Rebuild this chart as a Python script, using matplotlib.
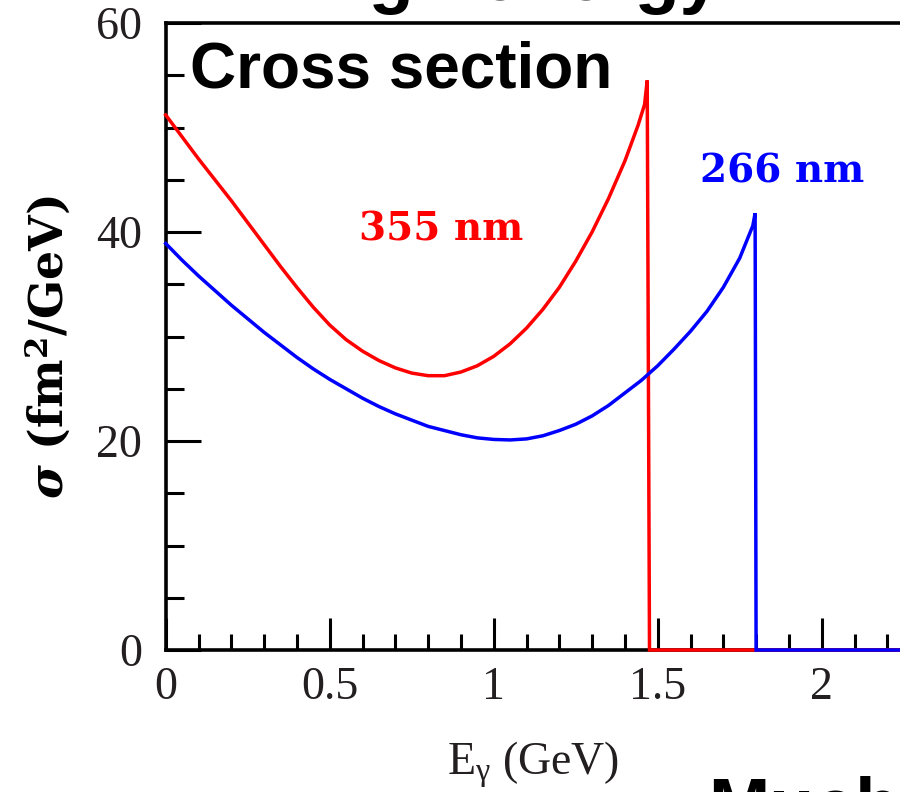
import matplotlib
matplotlib.use("Agg")
import matplotlib.pyplot as plt
from matplotlib.ticker import MultipleLocator

plt.rcParams['mathtext.fontset'] = 'custom'
plt.rcParams['mathtext.rm'] = 'Liberation Serif'
plt.rcParams['mathtext.it'] = 'Liberation Serif:italic'
plt.rcParams['mathtext.bf'] = 'DejaVu Serif:bold'
plt.rcParams['mathtext.bfit'] = 'DejaVu Serif:bold:italic'

# Compton backscattered photon spectra for two laser wavelengths
e_355 = [0.00, 0.05, 0.10, 0.15, 0.20, 0.25, 0.30, 0.35, 0.40, 0.45, 0.50,
         0.55, 0.60, 0.65, 0.70, 0.75, 0.80, 0.85, 0.90, 0.95, 1.00, 1.05,
         1.10, 1.15, 1.20, 1.25, 1.30, 1.35, 1.40, 1.44, 1.46, 1.468, 1.475, 2.60]
sigma_355 = [51.2, 49.1, 47.0, 45.0, 43.0, 40.9, 38.8, 36.7, 34.7, 32.8, 31.1,
             29.7, 28.6, 27.7, 27.0, 26.5, 26.25, 26.25, 26.6, 27.2, 28.1, 29.3,
             30.8, 32.6, 34.7, 37.2, 40.0, 43.2, 46.8, 50.2, 52.2, 54.5, 0.0, 0.0]

e_266 = [0.00, 0.05, 0.10, 0.15, 0.20, 0.25, 0.30, 0.35, 0.40, 0.45, 0.50,
         0.55, 0.60, 0.65, 0.70, 0.75, 0.80, 0.85, 0.90, 0.95, 1.00, 1.05,
         1.10, 1.15, 1.20, 1.25, 1.30, 1.35, 1.40, 1.45, 1.50, 1.55, 1.60,
         1.65, 1.70, 1.75, 1.79, 1.797, 1.80, 2.60]
sigma_266 = [38.9, 37.3, 35.8, 34.4, 33.0, 31.7, 30.4, 29.2, 28.0, 26.9, 25.9,
             25.0, 24.1, 23.3, 22.6, 22.0, 21.4, 21.0, 20.6, 20.3, 20.15, 20.1,
             20.2, 20.5, 21.0, 21.6, 22.4, 23.4, 24.6, 25.8, 27.2, 28.8, 30.5,
             32.4, 34.7, 37.5, 40.6, 41.8, 0.0, 0.0]

x_ticks = [0, 0.5, 1, 1.5, 2]
x_tick_labels = ['0', '0.5', '1', '1.5', '2']
y_ticks = [0, 20, 40, 60]
y_tick_labels = ['0', '20', '40', '60']

W, H = 900, 792
fig = plt.figure(figsize=(W / 100, H / 100), dpi=100)

x0_px, y0_px = 165.7, 650.0
px_per_gev, px_per_unit = 328.0, 10.45
xmax, ymax = 2.6, 60
ax = fig.add_axes([x0_px / W, 1 - y0_px / H,
                   xmax * px_per_gev / W, ymax * px_per_unit / H])

ax.plot(e_355, sigma_355, color='#ff0000', lw=2.5, solid_joinstyle='miter',
        zorder=3, clip_on=False)
ax.plot(e_266, sigma_266, color='#0000ff', lw=2.5, solid_joinstyle='miter',
        zorder=3.1, clip_on=False)

ax.set_xlim(0, xmax)
ax.set_ylim(0, ymax)

for s in ax.spines.values():
    s.set_linewidth(2.6)
    s.set_color('black')

ax.set_xticks(x_ticks)
ax.set_xticklabels(x_tick_labels)
ax.set_yticks(y_ticks)
ax.set_yticklabels(y_tick_labels)
ax.xaxis.set_minor_locator(MultipleLocator(0.1))
ax.yaxis.set_minor_locator(MultipleLocator(5))

for lab in ax.get_xticklabels() + ax.get_yticklabels():
    lab.set_fontfamily('Liberation Serif')
    lab.set_fontsize(33)
    lab.set_color('#231f20')

ax.tick_params(axis='x', which='major', direction='in', length=23, width=2.2, pad=12)
ax.tick_params(axis='x', which='minor', direction='in', length=11.5, width=2.2)
ax.tick_params(axis='y', which='major', direction='in', length=25, width=2.2, pad=17)
ax.tick_params(axis='y', which='minor', direction='in', length=12.7, width=2.2)
ax.tick_params(top=False, right=False, which='both')

ax.text(0.84, 39.2, '355 nm', color='#ff0000', fontsize=28,
        family='DejaVu Serif', weight='bold', ha='center', va='baseline')
ax.text(1.88, 44.7, '266 nm', color='#0000ff', fontsize=28,
        family='DejaVu Serif', weight='bold', ha='center', va='baseline')

fig.text(533 / W, 1 - 775 / H, r'E$_{\mathrm{\gamma}}$ (GeV)', fontsize=33,
         family='Liberation Serif', color='#231f20', ha='center', va='baseline')
fig.text(48 / W, 1 - 347 / H, r'$\mathbfit{\sigma}$ (fm$^{\mathbf{2}}$/GeV)',
         fontsize=33, family='DejaVu Serif', weight='bold', rotation=90,
         ha='center', va='center')

fig.text(190 / W, 1 - 88 / H, 'Cross section', fontsize=46,
         family='Liberation Sans', weight='bold', ha='left', va='baseline')
fig.text(295 / W, 1 - 0 / H, 'High energy', fontsize=53,
         family='Liberation Sans', weight='bold', ha='left', va='baseline')
fig.text(708 / W, 1 - 830 / H, 'Much', fontsize=53,
         family='Liberation Sans', weight='bold', ha='left', va='baseline')

fig.savefig('out.png', dpi=100)
